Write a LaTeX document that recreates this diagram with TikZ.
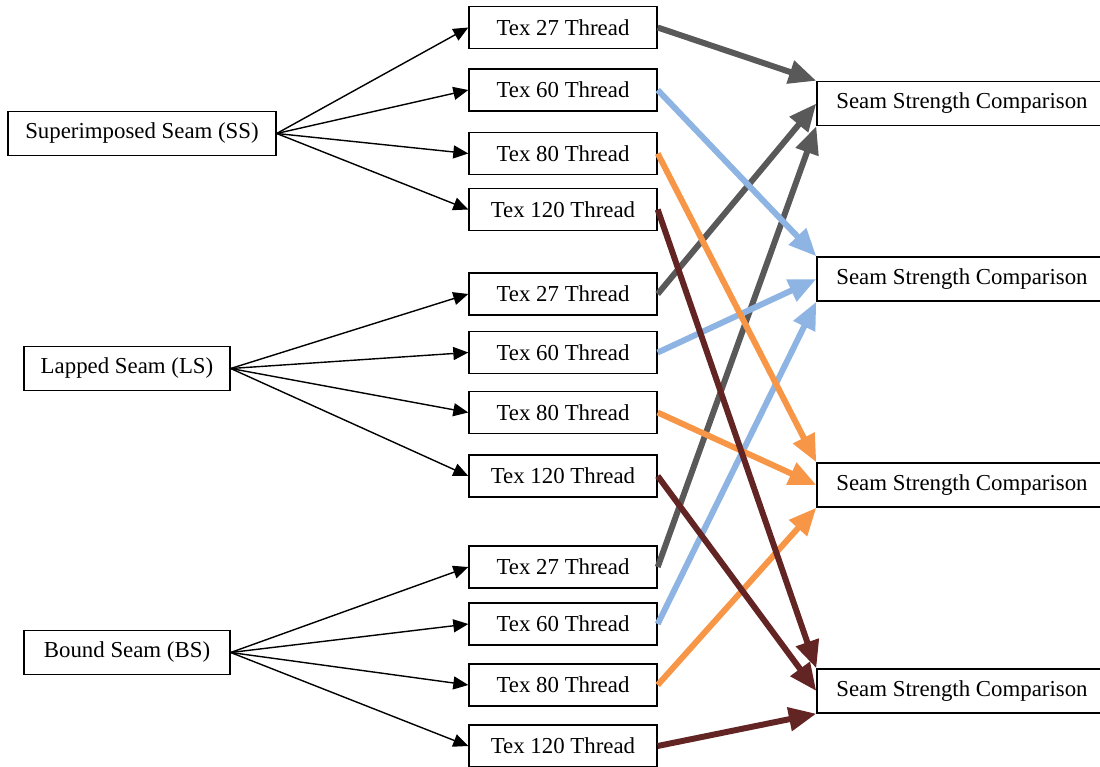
\documentclass[tikz,border=0pt]{standalone}
\usepackage{fontspec}
\setmainfont{Liberation Serif}
\usepackage{xcolor}
\usetikzlibrary{arrows.meta}
\definecolor{tgrey}{HTML}{595959}
\definecolor{tblue}{HTML}{8DB4E2}
\definecolor{torange}{HTML}{F79646}
\definecolor{tbrown}{HTML}{632523}

\begin{document}
\begin{tikzpicture}[x=0.02cm, y=-0.02cm,
	boxed/.style={shape=rectangle, draw, line width=0.8pt, inner sep=2pt, font=\fontsize{13}{15}\selectfont},
	seambox/.style={boxed, minimum height=0.88cm},
	threadbox/.style={boxed, minimum width=3.76cm, minimum height=0.84cm},
	cmpbox/.style={boxed, minimum width=5.8cm, minimum height=0.88cm},
	feed/.style={-{Triangle[length=0.3cm, width=0.26cm]}, line width=0.8pt},
	link/.style={-{Triangle[length=0.55cm, width=0.46cm]}, line width=3.4pt}]
	\useasboundingbox (0, 0) rectangle (1100, 767);
	% Seam types, threads and comparisons:
	\node[seambox, minimum width=5.36cm] (ss) at (142, 133.5){Superimposed Seam (SS)};
	\node[seambox, minimum width=4.12cm] (ls) at (127, 368.5){Lapped Seam (LS)};
	\node[seambox, minimum width=4.12cm] (bs) at (127, 652.5){Bound Seam (BS)};
	\node[threadbox] (ss27) at (563, 27.5){Tex 27 Thread};
	\node[threadbox] (ss60) at (563, 90){Tex 60 Thread};
	\node[threadbox] (ss80) at (563, 153.5){Tex 80 Thread};
	\node[threadbox] (ss120) at (563, 209.5){Tex 120 Thread};
	\node[threadbox] (ls27) at (563, 294){Tex 27 Thread};
	\node[threadbox] (ls60) at (563, 352.5){Tex 60 Thread};
	\node[threadbox] (ls80) at (563, 412.5){Tex 80 Thread};
	\node[threadbox] (ls120) at (563, 476){Tex 120 Thread};
	\node[threadbox] (bs27) at (563, 567){Tex 27 Thread};
	\node[threadbox] (bs60) at (563, 624){Tex 60 Thread};
	\node[threadbox] (bs80) at (563, 685){Tex 80 Thread};
	\node[threadbox] (bs120) at (563, 746){Tex 120 Thread};
	\node[cmpbox] (cmp27) at (962, 103.5){Seam Strength Comparison};
	\node[cmpbox] (cmp60) at (962, 279){Seam Strength Comparison};
	\node[cmpbox] (cmp80) at (962, 485){Seam Strength Comparison};
	\node[cmpbox] (cmp120) at (962, 691){Seam Strength Comparison};
	% seam to thread
	\draw[feed] (ss.east) -- (ss27.west);
	\draw[feed] (ss.east) -- (ss60.west);
	\draw[feed] (ss.east) -- (ss80.west);
	\draw[feed] (ss.east) -- (ss120.west);
	\draw[feed] (ls.east) -- (ls27.west);
	\draw[feed] (ls.east) -- (ls60.west);
	\draw[feed] (ls.east) -- (ls80.west);
	\draw[feed] (ls.east) -- (ls120.west);
	\draw[feed] (bs.east) -- (bs27.west);
	\draw[feed] (bs.east) -- (bs60.west);
	\draw[feed] (bs.east) -- (bs80.west);
	\draw[feed] (bs.east) -- (bs120.west);
	% thread to comparison
	\draw[link, tgrey] (ss27.east) -- (cmp27.north west);
	\draw[link, tgrey] (ls27.east) -- (cmp27.west);
	\draw[link, tgrey] (bs27.east) -- (cmp27.south west);
	\draw[link, tblue] (ss60.east) -- (cmp60.north west);
	\draw[link, tblue] (ls60.east) -- (cmp60.west);
	\draw[link, tblue] (bs60.east) -- (cmp60.south west);
	\draw[link, torange] (ss80.east) -- (cmp80.north west);
	\draw[link, torange] (ls80.east) -- (cmp80.west);
	\draw[link, torange] (bs80.east) -- (cmp80.south west);
	\draw[link, tbrown] (ss120.east) -- (cmp120.north west);
	\draw[link, tbrown] (ls120.east) -- (cmp120.west);
	\draw[link, tbrown] (bs120.east) -- (cmp120.south west);
\end{tikzpicture}
\end{document}
